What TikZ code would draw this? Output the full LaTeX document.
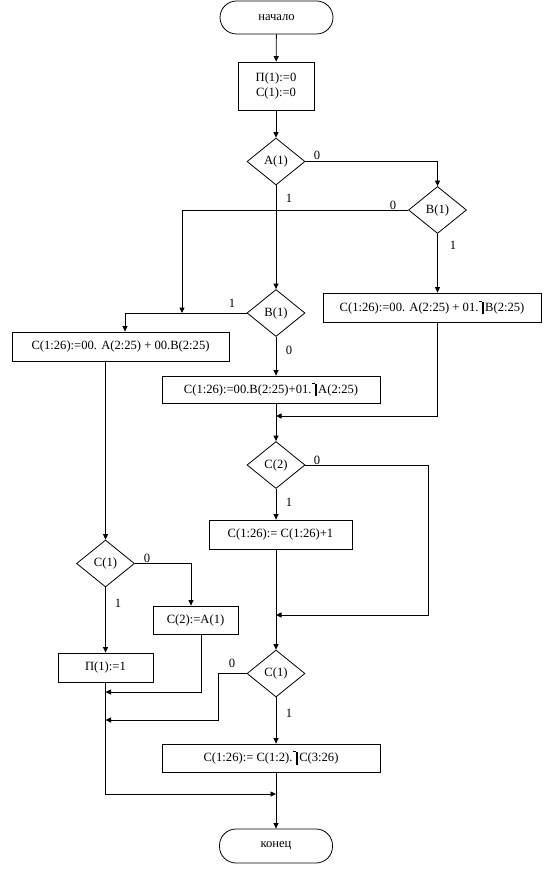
\documentclass[tikz,border=0pt]{standalone}
\usepackage{fontspec}
\setmainfont{Liberation Serif}
\usetikzlibrary{shapes.geometric,arrows.meta}
\newcommand{\notbr}{\kern0.6pt\rule[0.74em]{2.6pt}{0.8pt}\rule[-0.24em]{2.3pt}{0.98em}\kern1.2pt}
\begin{document}
\begin{tikzpicture}[x=1pt,y=-1pt,line width=0.8pt,
                font=\fontsize{12.6}{14.5}\selectfont,
                >={Triangle[length=5.5pt,width=5pt]},
                term/.style={draw,rectangle,rounded corners=16.5pt,minimum width=113pt,minimum height=33pt,inner sep=0pt},
                blk/.style={draw,rectangle,minimum height=29pt,inner sep=0pt},
                cond/.style={draw,diamond,aspect=1.23,minimum width=58pt,minimum height=47pt,inner sep=0pt},
                lbl/.style={inner sep=0pt}]
                \useasboundingbox (0,0) rectangle (553,877);
                \node[term] (start) at (276.5,17.5) {начало};
                \node[blk,minimum width=76pt,minimum height=48pt,align=center] (init) at (276,86) {П(1):=0\\С(1):=0};
                \node[cond] (dA) at (276,161.5) {A(1)};
                \node[cond] (dB1) at (437.5,210) {B(1)};
                \node[cond] (dB2) at (276,313) {B(1)};
                \node[blk,minimum width=218pt] (bxR) at (432,307.5) {C(1:26):=00. A(2:25) + 01.\notbr B(2:25)};
                \node[blk,minimum width=217pt] (bxL) at (120.5,346.5) {C(1:26):=00. A(2:25) + 00.B(2:25)};
                \node[blk,minimum width=218pt,minimum height=27pt] (bxM) at (271,389.5) {C(1:26):=00.B(2:25)+01.\notbr A(2:25)};
                \node[cond] (dC2) at (276,465) {C(2)};
                \node[blk,minimum width=143pt] (bxInc) at (280.5,534.5) {C(1:26):= C(1:26)+1};
                \node[cond] (dC1a) at (105.5,563.5) {C(1)};
                \node[blk,minimum width=85pt,minimum height=28pt] (bxC2) at (195.5,620) {C(2):=A(1)};
                \node[blk,minimum width=95pt] (bxP) at (105.5,667.5) {П(1):=1};
                \node[cond] (dC1b) at (276,673.5) {C(1)};
                \node[blk,minimum width=218pt,minimum height=28pt] (bxSh) at (271,758) {C(1:26):= C(1:2).\notbr C(3:26)};
                \node[term,minimum height=34pt] (stop) at (276,846) {конец};
                \coordinate (j1) at (276,416);
                \coordinate (j2) at (276,615);
                \coordinate (j3) at (105.5,692);
                \coordinate (j4) at (105.5,720);
                \coordinate (j5) at (276,794);
                \coordinate (j6) at (182,313);
                % branch labels
                \node[lbl] (tA0) at (317,155) {0};
                \node[lbl] (tA1) at (289,198) {1};
                \node[lbl] (tB10) at (393,205) {0};
                \node[lbl] (tB11) at (453,245) {1};
                \node[lbl] (tB20) at (289,350) {0};
                \node[lbl] (tB21) at (232,303) {1};
                \node[lbl] (tC20) at (317,460) {0};
                \node[lbl] (tC21) at (289,502) {1};
                \node[lbl] (tCa0) at (147,558) {0};
                \node[lbl] (tCa1) at (118,603) {1};
                \node[lbl] (tCb0) at (232,663) {0};
                \node[lbl] (tCb1) at (289,713) {1};
                % connectors
                \draw[->] (start) -- (init);
                \draw[->] (init) -- (dA);
                \draw[->] (dA.east) -| (dB1.north);
                \draw[->] (dB1.west) -| (j6);
                \draw[->] (dA.south) -- (dB2.north);
                \draw[->] (dB1.south) -- (dB1.south |- bxR.north);
                \draw[->] (dB2.west) -| ([xshift=4.5pt]bxL.north);
                \draw[->] (dB2.south) -- (dB2.south |- bxM.north);
                \draw[->] (dB1.south |- bxR.south) |- (j1);
                \draw[->] (bxM.south -| dC2) -- (dC2.north);
                \draw[->] (bxL.south -| dC1a) -- (dC1a.north);
                \draw[->] (dC2.east) -- ++(123,0) |- (j2);
                \draw[->] (dC2.south) -- (dC2.south |- bxInc.north);
                \draw[->] (bxInc.south -| dC1b) -- (dC1b.north);
                \draw[->] (dC1a.east) -| ([xshift=-4.5pt]bxC2.north);
                \draw[->] (dC1a.south) -- (bxP.north);
                \draw[->] ([xshift=5.5pt]bxC2.south) |- (j3);
                \draw[->] (dC1b.west) -- ++(-28,0) |- (j4);
                \draw[->] (dC1b.south) -- (dC1b.south |- bxSh.north);
                \draw[->] (bxP.south) |- (j5);
                \draw[->] (bxSh.south -| stop) -- (stop.north);
            \end{tikzpicture}
\end{document}
